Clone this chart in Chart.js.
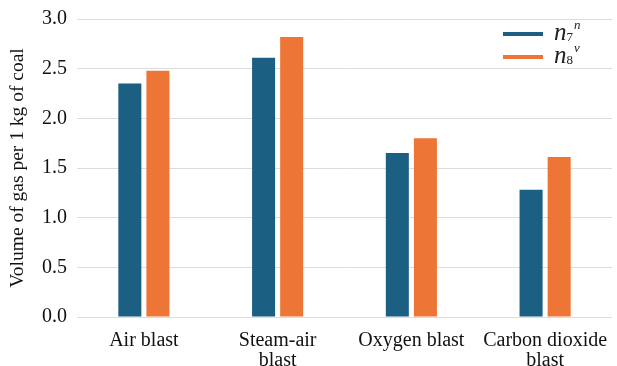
<!DOCTYPE html>
<html>
<head>
<meta charset="utf-8">
<script src="https://cdn.jsdelivr.net/npm/chart.js@4.4.1/dist/chart.umd.min.js"></script>
<style>
  html, body { margin: 0; padding: 0; background: #fff; }
  #wrap { width: 617px; height: 366px; }
</style>
</head>
<body>
<div id="wrap"><canvas id="gasChart" width="617" height="366"></canvas></div>
<script>
var categories = [["Air blast"], ["Steam-air", "blast"], ["Oxygen blast"], ["Carbon dioxide", "blast"]];
var n7Values = [2.35, 2.61, 1.65, 1.28];
var n8Values = [2.48, 2.82, 1.80, 1.61];
var yTicks = [0, 0.5, 1.0, 1.5, 2.0, 2.5, 3.0];

// legend text parts: base letter, subscript, superscript
var legendBase = ["n", "n"];
var legendSub = ["7", "8"];
var legendSup = ["n", "v"];

var blue = "#1b5f83";
var orange = "#ed7536";
var serif = "'Liberation Serif', 'Times New Roman', serif";

var legendPlugin = {
	id: "subLegend",
	afterDraw: function(chart) {
		var ctx = chart.ctx;
		var x0 = 503, y0 = 34, rowH = 23;
		ctx.save();
		chart.data.datasets.forEach(function(ds, i) {
			var y = y0 + i * rowH;
			ctx.strokeStyle = ds.backgroundColor;
			ctx.lineWidth = 4;
			ctx.beginPath();
			ctx.moveTo(x0, y);
			ctx.lineTo(x0 + 40, y);
			ctx.stroke();

			var tx = x0 + 51;
			ctx.fillStyle = "#222";
			ctx.textBaseline = "alphabetic";
			ctx.font = "italic 25px " + serif;
			ctx.fillText(legendBase[i], tx, y + 6);
			tx += ctx.measureText(legendBase[i]).width;
			ctx.font = "13px " + serif;
			ctx.fillText(legendSub[i], tx, y + 7);
			tx += ctx.measureText(legendSub[i]).width + 1;
			ctx.font = "italic 13px " + serif;
			ctx.fillText(legendSup[i], tx, y - 5);
		});
		ctx.restore();
	}
};

var ctx = document.getElementById("gasChart").getContext("2d");
var chart = new Chart(ctx, {
	type: "bar",
	data: {
		labels: categories,
		datasets: [
			{ label: "n7n", data: n7Values, backgroundColor: blue },
			{ label: "n8v", data: n8Values, backgroundColor: orange }
		]
	},
	options: {
		responsive: false,
		animation: false,
		devicePixelRatio: 1,
		categoryPercentage: 0.42,
		barPercentage: 0.82,
		layout: { padding: { top: 7, right: 5, left: 0, bottom: 0 } },
		plugins: {
			legend: { display: false },
			tooltip: { enabled: false }
		},
		scales: {
			x: {
				grid: { display: false },
				border: { display: false },
				ticks: {
					color: "#111",
					padding: 6,
					font: { family: serif, size: 20, lineHeight: 1.0 },
					maxRotation: 0,
					autoSkip: false
				},
				afterFit: function(scale) { scale.height = 49; }
			},
			y: {
				min: 0,
				max: 3,
				afterBuildTicks: function(scale) {
					scale.ticks = yTicks.map(function(v) { return { value: v }; });
				},
				grid: { color: "#dddddd", lineWidth: 1, drawTicks: false },
				border: { display: false },
				ticks: {
					color: "#111",
					padding: 10,
					font: { family: serif, size: 20, lineHeight: 0.9 },
					callback: function(v) { return Number(v).toFixed(1); }
				},
				title: {
					display: true,
					text: "Volume of gas per 1 kg of coal",
					color: "#111",
					font: { family: serif, size: 19.5 },
					padding: { top: 6, bottom: 2 }
				},
				afterFit: function(scale) { scale.width = 77; }
			}
		}
	},
	plugins: [legendPlugin]
});
</script>
</body>
</html>
